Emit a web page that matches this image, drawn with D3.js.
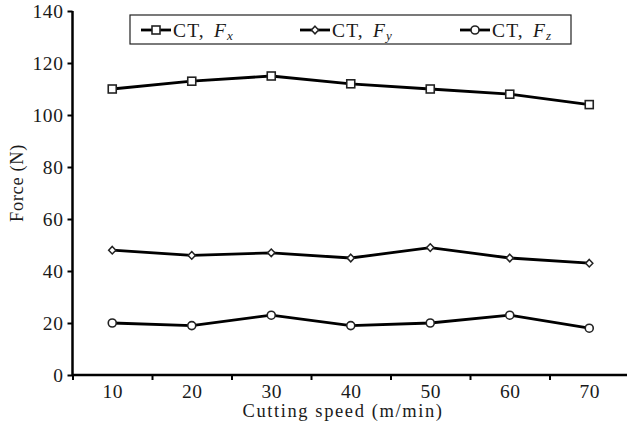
<!DOCTYPE html>
<html><head><meta charset="utf-8">
<script src="https://cdn.jsdelivr.net/npm/d3@7"></script>
<style>body{margin:0;background:#fff}svg{display:block}</style>
</head><body>
<script>
const speeds = [10, 20, 30, 40, 50, 60, 70];
const fx = [110, 113, 115, 112, 110, 108, 104];
const fy = [48, 46, 47, 45, 49, 45, 43];
const fz = [20, 19, 23, 19, 20, 23, 18];
const yTicks = [0, 20, 40, 60, 80, 100, 120, 140];
const xTickMarks = [5, 15, 25, 35, 45, 55, 65];
const seriesNames = ["x", "y", "z"];
const markers = ["square", "diamond", "circle"];

const W = 627, H = 432;
const font = "'Liberation Serif', 'DejaVu Serif', serif";
const txt = "#1a1a1a";
const svg = d3.select("body").append("svg").attr("width", W).attr("height", H);

const x = d3.scaleLinear().domain([5, 75]).range([72.5, 629]);
const y = d3.scaleLinear().domain([0, 140]).range([375, 11]);

// axes
const yAxis = svg.append("g").attr("transform", `translate(${x(5)},0)`)
  .call(d3.axisLeft(y).tickValues(yTicks).tickSize(5).tickPadding(4));
yAxis.select(".domain").attr("d", `M0,${y(140)}V${y(0)}`).attr("stroke-width", 2.5);
yAxis.selectAll(".tick line").attr("stroke-width", 2);
yAxis.selectAll("text").attr("font-family", font).attr("font-size", 19.5)
  .attr("letter-spacing", 0.6).attr("fill", txt);

const xAxis = svg.append("g").attr("transform", `translate(0,${y(0)})`)
  .call(d3.axisBottom(x).tickValues(xTickMarks).tickSize(5).tickFormat(""));
xAxis.select(".domain").attr("d", `M${x(5)},0H${W}`).attr("stroke-width", 2.5);
xAxis.selectAll(".tick line").attr("stroke-width", 2);

const xLab = svg.append("g").attr("transform", `translate(0,${y(0)})`)
  .call(d3.axisBottom(x).tickValues(speeds).tickSize(0).tickPadding(9));
xLab.select(".domain").remove();
xLab.selectAll("text").attr("font-family", font).attr("font-size", 19.5)
  .attr("letter-spacing", 0.6).attr("fill", txt);

svg.append("text").attr("x", 343).attr("y", 417).attr("text-anchor", "middle")
  .attr("font-family", font).attr("font-size", 18.5).attr("letter-spacing", 1.6).attr("fill", txt)
  .text("Cutting speed (m/min)");
svg.append("text").attr("transform", "translate(23,183) rotate(-90)").attr("text-anchor", "middle")
  .attr("font-family", font).attr("font-size", 18.5).attr("letter-spacing", 0.6).attr("fill", txt)
  .text("Force (N)");

function drawMarker(g, type, cx, cy) {
  if (type === "square") {
    g.append("rect").attr("x", cx - 4).attr("y", cy - 4).attr("width", 8).attr("height", 8)
      .attr("fill", "#fff").attr("stroke", "#222").attr("stroke-width", 1.6);
  } else if (type === "diamond") {
    g.append("path").attr("d", `M${cx},${cy-3.8}L${cx+3.6},${cy}L${cx},${cy+3.8}L${cx-3.6},${cy}Z`)
      .attr("fill", "#fff").attr("stroke", "#222").attr("stroke-width", 1.5);
  } else {
    g.append("circle").attr("cx", cx).attr("cy", cy).attr("r", 4)
      .attr("fill", "#fff").attr("stroke", "#222").attr("stroke-width", 1.6);
  }
}

const line = d3.line().x((d, i) => x(speeds[i])).y(d => y(d));
[fx, fy, fz].forEach((vals, k) => {
  const g = svg.append("g");
  g.append("path").attr("d", line(vals)).attr("fill", "none").attr("stroke", "#000").attr("stroke-width", 2.8);
  vals.forEach((v, i) => drawMarker(g, markers[k], x(speeds[i]), y(v)));
});

// legend
const lg = svg.append("g");
lg.append("rect").attr("x", 130).attr("y", 15).attr("width", 441).attr("height", 29)
  .attr("fill", "#fff").attr("stroke", "#222").attr("stroke-width", 1.2);
const legX = [141, 300, 460];
seriesNames.forEach((s, k) => {
  const lx = legX[k], ly = 30;
  lg.append("line").attr("x1", lx).attr("x2", lx + 30).attr("y1", ly).attr("y2", ly)
    .attr("stroke", "#000").attr("stroke-width", 2.8);
  drawMarker(lg, markers[k], lx + 15, ly);
  const t = lg.append("text").attr("x", lx + 32).attr("y", ly + 6.5)
    .attr("font-family", font).attr("font-size", 19.5).attr("fill", txt);
  t.append("tspan").attr("letter-spacing", 1.2).text("CT,");
  t.append("tspan").attr("font-style", "italic").attr("dx", 9).text("F");
  t.append("tspan").attr("font-style", "italic").attr("font-size", 13).attr("dx", 1).attr("dy", 3.5).text(s);
});
</script>
</body></html>
